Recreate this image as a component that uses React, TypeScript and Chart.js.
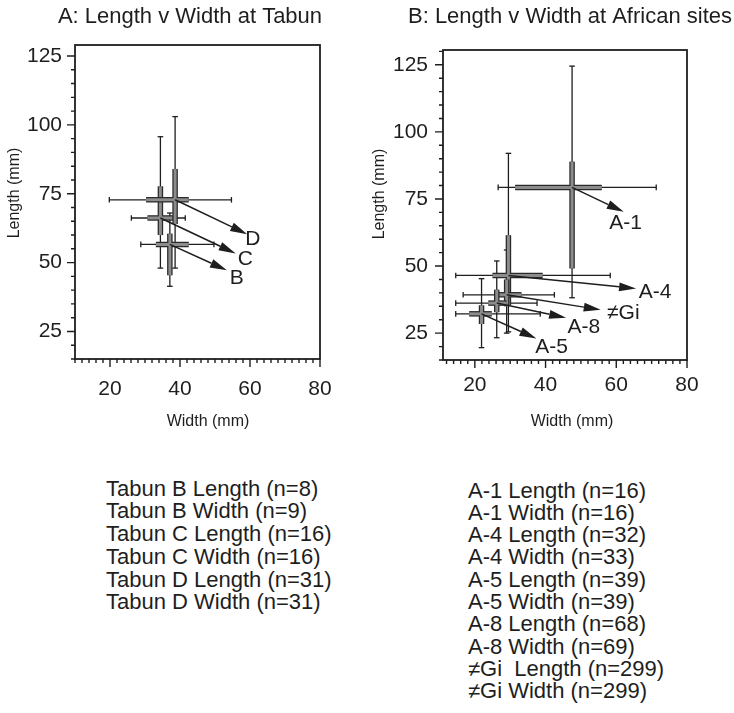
import React, { useEffect, useRef } from 'react';
import { Chart, registerables } from 'chart.js';

Chart.register(...registerables);

const FONT = "'Liberation Sans', Arial, Helvetica, sans-serif";
const INK = '#1e1e1e';
const BOX_EDGE = '#2a2a2a';
const BOX_FILL = '#8c8c8c';

// ---------- Panel A: Tabun ----------
const TABUN_SITES = ['B', 'C', 'D'];
const TABUN_MEAN_W = [37.1, 34.4, 38.6];
const TABUN_MEAN_L = [56.6, 66.2, 72.8];
const TABUN_W_BOX_LO = [33.1, 30.7, 30.3];
const TABUN_W_BOX_HI = [42.5, 39.2, 42.5];
const TABUN_W_MIN = [28.8, 26.1, 19.8];
const TABUN_W_MAX = [49.7, 41.5, 54.7];
const TABUN_L_BOX_LO = [45.4, 60.0, 64.0];
const TABUN_L_BOX_HI = [60.5, 77.7, 84.0];
const TABUN_L_MIN = [41.4, 48.0, 48.0];
const TABUN_L_MAX = [68.0, 95.7, 103.0];
const TABUN_TIP_W = [53.4, 55.9, 59.2];
const TABUN_TIP_L = [47.2, 53.3, 60.3];
const TABUN_LABEL_W = [56.2, 58.7, 60.8];
const TABUN_LABEL_L = [44.3, 51.2, 58.6];
const TABUN_LEGEND = [
  'Tabun B Length (n=8)',
  'Tabun B Width (n=9)',
  'Tabun C Length (n=16)',
  'Tabun C Width (n=16)',
  'Tabun D Length (n=31)',
  'Tabun D Width (n=31)',
];

// ---------- Panel B: African sites ----------
const AFRICA_SITES = ['A-1', 'A-4', '\u2260Gi', 'A-8', 'A-5'];
const AFRICA_MEAN_W = [47.5, 29.5, 29.0, 26.2, 21.9];
const AFRICA_MEAN_L = [79.3, 46.5, 39.3, 36.2, 32.2];
const AFRICA_W_BOX_LO = [31.4, 25.0, 25.5, 23.8, 18.4];
const AFRICA_W_BOX_HI = [55.9, 39.2, 33.2, 29.0, 24.8];
const AFRICA_W_MIN = [26.6, 14.6, 16.7, 14.6, 14.6];
const AFRICA_W_MAX = [71.3, 58.3, 42.5, 37.6, 38.5];
const AFRICA_L_BOX_LO = [49.1, 35.5, 35.0, 32.8, 28.4];
const AFRICA_L_BOX_HI = [88.9, 61.5, 45.0, 41.2, 35.4];
const AFRICA_L_MIN = [38.2, 25.5, 25.0, 23.3, 19.6];
const AFRICA_L_MAX = [124.5, 92.0, 56.0, 51.9, 45.3];
const AFRICA_TIP_W = [62.1, 65.6, 55.6, 45.8, 37.4];
const AFRICA_TIP_L = [70.2, 41.6, 33.7, 30.7, 23.0];
const AFRICA_LABEL_W = [62.6, 71.0, 62.0, 50.8, 41.7];
const AFRICA_LABEL_L = [66.1, 40.3, 32.5, 27.2, 19.8];
const AFRICA_LEGEND = [
  'A-1 Length (n=16)',
  'A-1 Width (n=16)',
  'A-4 Length (n=32)',
  'A-4 Width (n=33)',
  'A-5 Length (n=39)',
  'A-5 Width (n=39)',
  'A-8 Length (n=68)',
  'A-8 Width (n=69)',
  '\u2260Gi  Length (n=299)',
  '\u2260Gi Width (n=299)',
];

// ---------- axes ----------
const X_MAJOR = [20, 40, 60, 80];
const Y_MAJOR = [25, 50, 75, 100, 125];
const X_MINOR_STEP = 2;
const Y_MINOR_STEP = 5;

const PANEL_A = {
  title: 'A: Length v Width at Tabun',
  xTitle: 'Width (mm)',
  yTitle: 'Length (mm)',
  sites: TABUN_SITES,
  meanW: TABUN_MEAN_W, meanL: TABUN_MEAN_L,
  wBoxLo: TABUN_W_BOX_LO, wBoxHi: TABUN_W_BOX_HI,
  wMin: TABUN_W_MIN, wMax: TABUN_W_MAX,
  lBoxLo: TABUN_L_BOX_LO, lBoxHi: TABUN_L_BOX_HI,
  lMin: TABUN_L_MIN, lMax: TABUN_L_MAX,
  tipW: TABUN_TIP_W, tipL: TABUN_TIP_L,
  labelW: TABUN_LABEL_W, labelL: TABUN_LABEL_L,
  xMin: 10, xMax: 80, yMin: 15, yMax: 129,
  left: 0, width: 365, height: 460,
  padRight: 45, areaTop: 45, yAxisW: 75, xAxisH: 101,
  xLabelPad: 18, yLabelPad: 13,
  titlePos: [190, 17], xTitlePos: [208, 422], yTitlePos: [15, 193],
};

const PANEL_B = {
  title: 'B: Length v Width at African sites',
  xTitle: 'Width (mm)',
  yTitle: 'Length (mm)',
  sites: AFRICA_SITES,
  meanW: AFRICA_MEAN_W, meanL: AFRICA_MEAN_L,
  wBoxLo: AFRICA_W_BOX_LO, wBoxHi: AFRICA_W_BOX_HI,
  wMin: AFRICA_W_MIN, wMax: AFRICA_W_MAX,
  lBoxLo: AFRICA_L_BOX_LO, lBoxHi: AFRICA_L_BOX_HI,
  lMin: AFRICA_L_MIN, lMax: AFRICA_L_MAX,
  tipW: AFRICA_TIP_W, tipL: AFRICA_TIP_L,
  labelW: AFRICA_LABEL_W, labelL: AFRICA_LABEL_L,
  xMin: 11, xMax: 80, yMin: 15, yMax: 130.5,
  left: 365, width: 369, height: 460,
  padRight: 47, areaTop: 50, yAxisW: 78, xAxisH: 100,
  xLabelPad: 13, yLabelPad: 15,
  titlePos: [205, 17], xTitlePos: [207, 422], yTitlePos: [15, 194],
};

function crossDatasets(p: any) {
  const bottomToTop: any[] = [];
  const n = p.sites.length;
  for (let i = 0; i < n; i++) {
    bottomToTop.push({
      label: p.sites[i] + ' width range',
      data: [{ x: p.wMin[i], y: p.meanL[i] }, { x: p.wMax[i], y: p.meanL[i] }],
      showLine: true, borderColor: INK, borderWidth: 1.3,
      pointStyle: 'line', rotation: 90, pointRadius: 2.8,
      pointBorderColor: INK, pointBorderWidth: 1.3,
    });
    bottomToTop.push({
      label: p.sites[i] + ' length range',
      data: [{ x: p.meanW[i], y: p.lMin[i] }, { x: p.meanW[i], y: p.lMax[i] }],
      showLine: true, borderColor: INK, borderWidth: 1.3,
      pointStyle: 'line', rotation: 0, pointRadius: 2.8,
      pointBorderColor: INK, pointBorderWidth: 1.3,
    });
  }
  for (let i = 0; i < n; i++) {
    const h = [{ x: p.wBoxLo[i], y: p.meanL[i] }, { x: p.wBoxHi[i], y: p.meanL[i] }];
    const v = [{ x: p.meanW[i], y: p.lBoxLo[i] }, { x: p.meanW[i], y: p.lBoxHi[i] }];
    const base = { showLine: true, pointRadius: 0, borderCapStyle: 'butt' };
    bottomToTop.push({ ...base, label: p.sites[i] + ' width box edge', data: h, borderColor: BOX_EDGE, borderWidth: 5.5 });
    bottomToTop.push({ ...base, label: p.sites[i] + ' length box edge', data: v, borderColor: BOX_EDGE, borderWidth: 5.5 });
    bottomToTop.push({ ...base, label: p.sites[i] + ' width box', data: h, borderColor: BOX_FILL, borderWidth: 3 });
    bottomToTop.push({ ...base, label: p.sites[i] + ' length box', data: v, borderColor: BOX_FILL, borderWidth: 3 });
  }
  return bottomToTop.reverse();
}

function makeDeco(p: any) {
  return {
    id: 'deco',
    afterDatasetsDraw(chart: any) {
      const { ctx, scales } = chart;
      const xs = scales.x, ys = scales.y;
      ctx.save();
      ctx.strokeStyle = INK;
      ctx.fillStyle = INK;
      ctx.lineWidth = 1.5;
      for (let i = 0; i < p.sites.length; i++) {
        const x0 = xs.getPixelForValue(p.meanW[i]);
        const y0 = ys.getPixelForValue(p.meanL[i]);
        const x1 = xs.getPixelForValue(p.tipW[i]);
        const y1 = ys.getPixelForValue(p.tipL[i]);
        const a = Math.atan2(y1 - y0, x1 - x0);
        const len = 17, hw = 4.5;
        const bx = x1 - len * Math.cos(a), by = y1 - len * Math.sin(a);
        ctx.beginPath();
        ctx.moveTo(x0, y0);
        ctx.lineTo(bx, by);
        ctx.stroke();
        ctx.beginPath();
        ctx.moveTo(x1, y1);
        ctx.lineTo(bx - hw * Math.sin(a), by + hw * Math.cos(a));
        ctx.lineTo(bx + hw * Math.sin(a), by - hw * Math.cos(a));
        ctx.closePath();
        ctx.fill();
        ctx.font = '21px ' + FONT;
        ctx.textAlign = 'center';
        ctx.textBaseline = 'middle';
        ctx.fillText(p.sites[i], xs.getPixelForValue(p.labelW[i]), ys.getPixelForValue(p.labelL[i]));
      }
      ctx.restore();
    },
    afterDraw(chart: any) {
      const { ctx, scales, chartArea } = chart;
      const xs = scales.x, ys = scales.y;
      const { left, right, top, bottom } = chartArea;
      ctx.save();
      ctx.strokeStyle = INK;
      ctx.lineWidth = 1.8;
      ctx.strokeRect(left, top, right - left, bottom - top);
      ctx.lineWidth = 1.4;
      ctx.beginPath();
      const xStart = Math.ceil(p.xMin / X_MINOR_STEP) * X_MINOR_STEP;
      for (let v = xStart; v <= p.xMax + 1e-9; v += X_MINOR_STEP) {
        const px = xs.getPixelForValue(v);
        const l = X_MAJOR.includes(v) ? 8 : 4;
        ctx.moveTo(px, bottom);
        ctx.lineTo(px, bottom + l);
      }
      const yStart = Math.ceil(p.yMin / Y_MINOR_STEP) * Y_MINOR_STEP;
      for (let v = yStart; v <= p.yMax + 1e-9; v += Y_MINOR_STEP) {
        const py = ys.getPixelForValue(v);
        const l = Y_MAJOR.includes(v) ? 8 : 4;
        ctx.moveTo(left, py);
        ctx.lineTo(left - l, py);
      }
      ctx.stroke();

      ctx.fillStyle = INK;
      ctx.textAlign = 'center';
      ctx.textBaseline = 'middle';
      ctx.font = '22px ' + FONT;
      ctx.fillText(p.title, p.titlePos[0], p.titlePos[1]);
      ctx.font = '16px ' + FONT;
      ctx.fillText(p.xTitle, p.xTitlePos[0], p.xTitlePos[1]);
      ctx.translate(p.yTitlePos[0], p.yTitlePos[1]);
      ctx.rotate(-Math.PI / 2);
      ctx.fillText(p.yTitle, 0, 0);
      ctx.restore();
    },
  };
}

function makeConfig(p: any): any {
  return {
    type: 'scatter',
    data: { datasets: crossDatasets(p) },
    options: {
      responsive: false,
      maintainAspectRatio: false,
      animation: false,
      events: [],
      layout: { padding: { left: 0, right: p.padRight, top: p.areaTop, bottom: 0 } },
      plugins: {
        legend: { display: false },
        tooltip: { enabled: false },
        title: { display: false },
      },
      scales: {
        x: {
          type: 'linear',
          min: p.xMin,
          max: p.xMax,
          grid: { display: false, drawTicks: false },
          border: { display: false },
          ticks: { font: { family: FONT, size: 21 }, color: INK, padding: p.xLabelPad, maxRotation: 0, autoSkip: false },
          afterBuildTicks: (s: any) => { s.ticks = X_MAJOR.map((value) => ({ value })); },
          afterFit: (s: any) => { s.height = p.xAxisH; },
        },
        y: {
          type: 'linear',
          min: p.yMin,
          max: p.yMax,
          grid: { display: false, drawTicks: false },
          border: { display: false },
          ticks: { font: { family: FONT, size: 21 }, color: INK, padding: p.yLabelPad, autoSkip: false },
          afterBuildTicks: (s: any) => { s.ticks = Y_MAJOR.map((value) => ({ value })); },
          afterFit: (s: any) => { s.width = p.yAxisW; },
        },
      },
    },
    plugins: [makeDeco(p)],
  };
}

function Panel({ p }: { p: any }) {
  const ref = useRef<HTMLCanvasElement | null>(null);
  useEffect(() => {
    if (!ref.current) return;
    const chart = new Chart(ref.current, makeConfig(p));
    return () => chart.destroy();
  }, [p]);
  return (
    <canvas
      ref={ref}
      width={p.width}
      height={p.height}
      style={{ position: 'absolute', left: p.left, top: 0, width: p.width, height: p.height }}
    />
  );
}

export default function App() {
  const textStyle: React.CSSProperties = {
    position: 'absolute',
    fontFamily: FONT,
    fontSize: 22,
    color: INK,
    whiteSpace: 'pre',
  };
  return (
    <div style={{ position: 'absolute', left: 0, top: 0, width: 734, height: 713, background: '#fff', overflow: 'hidden' }}>
      <Panel p={PANEL_A} />
      <Panel p={PANEL_B} />
      <div style={{ ...textStyle, left: 106, top: 477.7, lineHeight: '22.7px' }}>
        {TABUN_LEGEND.map((t) => <div key={t}>{t}</div>)}
      </div>
      <div style={{ ...textStyle, left: 468, top: 479.5, lineHeight: '22.3px' }}>
        {AFRICA_LEGEND.map((t) => <div key={t}>{t}</div>)}
      </div>
    </div>
  );
}
